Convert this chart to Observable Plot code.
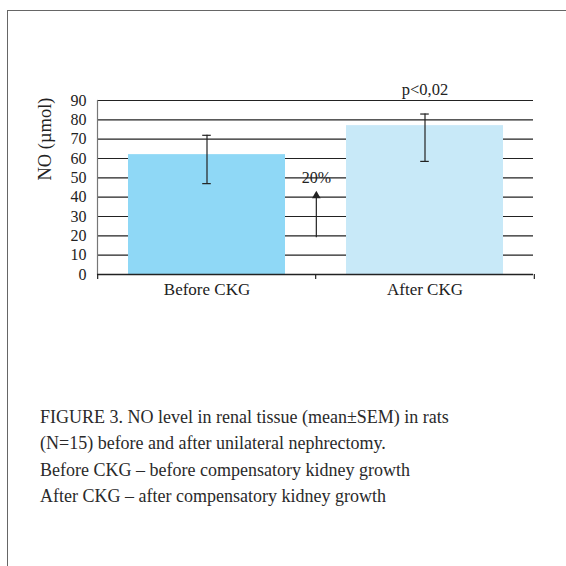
<!DOCTYPE html>
<html><head><meta charset="utf-8">
<script src="https://cdn.jsdelivr.net/npm/d3@7"></script>
<script src="https://cdn.jsdelivr.net/npm/@observablehq/plot@0.6"></script>
<style>
body{margin:0;background:#fff;}
#page{position:relative;width:566px;height:566px;overflow:hidden;font-family:"Liberation Serif",serif;background:#fff;}
#border{position:absolute;left:7px;top:10px;right:-4px;bottom:-4px;border-top:1.5px solid #666;border-left:1.5px solid #666;}
#chart{position:absolute;left:0;top:0;}
#caption{position:absolute;left:40px;top:404px;font-size:18px;line-height:26.3px;color:#2a2a2a;white-space:nowrap;}
</style></head><body>
<div id="page"><div id="border"></div><div id="chart"></div><div id="caption"></div></div>
<script>
const categories = ["Before CKG", "After CKG"];
const means = [62, 77];
const errLow = [47, 58.5];
const errHigh = [72, 83];
const barColors = ["#8fd8f6", "#c8e9f8"];
const yTicks = [0, 10, 20, 30, 40, 50, 60, 70, 80, 90];
const yLabel = "NO (µmol)";
const pLabel = "p<0,02";
const pLabelAt = 95.5;
const changeLabel = "20%";
const changeLabelAt = 50;
const arrowFrom = 19;
const arrowTo = 42;
const captionLines = [
  "FIGURE 3. NO level in renal tissue (mean±SEM) in rats",
  "(N=15) before and after unilateral nephrectomy.",
  "Before CKG – before compensatory kidney growth",
  "After CKG – after compensatory kidney growth"
];

const W = 566, H = 300, mL = 97, mR = 33, mT = 100, mB = 26;
const pInner = 0.28, pOuter = 0.137;
const step = (W - mL - mR) / (categories.length - pInner + 2 * pOuter);
const half = step / 2;
const bw = step * (1 - pInner);
const capInset = (bw - 9) / 2;

const data = categories.map((c, i) => ({c, mean: means[i], lo: errLow[i], hi: errHigh[i], color: barColors[i]}));
const ink = "#222";

const chart = Plot.plot({
  width: W, height: H,
  marginLeft: mL, marginRight: mR, marginTop: mT, marginBottom: mB,
  style: {fontFamily: "Liberation Serif, serif", fontSize: "16px", fontWeight: "normal", color: ink, background: "transparent"},
  x: {domain: categories, paddingInner: pInner, paddingOuter: pOuter, label: null},
  y: {domain: [0, 90], label: null},
  color: {type: "identity"},
  marks: [
    Plot.ruleY(yTicks.filter(t => t > 0), {stroke: ink, strokeWidth: 1.2}),
    Plot.barY(data, {x: "c", y: "mean", fill: "color"}),
    Plot.ruleX(data, {x: "c", y1: "lo", y2: "hi", stroke: ink, strokeWidth: 1.2}),
    Plot.tickY(data, {x: "c", y: "lo", stroke: ink, strokeWidth: 1.2, insetLeft: capInset, insetRight: capInset}),
    Plot.tickY(data, {x: "c", y: "hi", stroke: ink, strokeWidth: 1.2, insetLeft: capInset, insetRight: capInset}),
    Plot.axisY({ticks: yTicks, tickSize: 0, tickPadding: 11, fontSize: 16}),
    Plot.frame({anchor: "left", stroke: "#777", strokeWidth: 1.2}),
    Plot.ruleY([0], {stroke: ink, strokeWidth: 1.5}),
    Plot.ruleX(categories, {x: d => d, dx: -half, y1: 0, y2: 0, insetTop: 5, stroke: ink, strokeWidth: 1.2}),
    Plot.ruleX(categories.slice(-1), {x: d => d, dx: half, y1: 0, y2: 0, insetTop: 5, stroke: ink, strokeWidth: 1.2}),
    Plot.axisX({tickSize: 0, tickPadding: 8, fontSize: 17}),
    Plot.ruleX([{c: categories[0]}], {x: "c", dx: half, y1: arrowFrom, y2: arrowTo - 2, stroke: ink, strokeWidth: 1.2}),
    Plot.dot([{c: categories[0]}], {x: "c", y: arrowTo, dx: half, dy: 2.5, symbol: "triangle", r: 3.2, fill: ink, stroke: "none"}),
    Plot.text([{c: categories[0], t: changeLabel, y: changeLabelAt}], {x: "c", y: "y", text: "t", dx: half, fontSize: 16, fill: ink}),
    Plot.text([{c: categories[1], t: pLabel, y: pLabelAt}], {x: "c", y: "y", text: "t", fontSize: 16.5, fill: ink}),
    Plot.text([yLabel], {frameAnchor: "top-left", rotate: -90, textAnchor: "end", dx: -60, dy: -3, fontSize: 18.5, fontWeight: "normal", fill: ink})
  ]
});
document.getElementById("chart").appendChild(chart);
const cap = document.getElementById("caption");
captionLines.forEach(l => { const d = document.createElement("div"); d.textContent = l; cap.appendChild(d); });
</script>
</body></html>
